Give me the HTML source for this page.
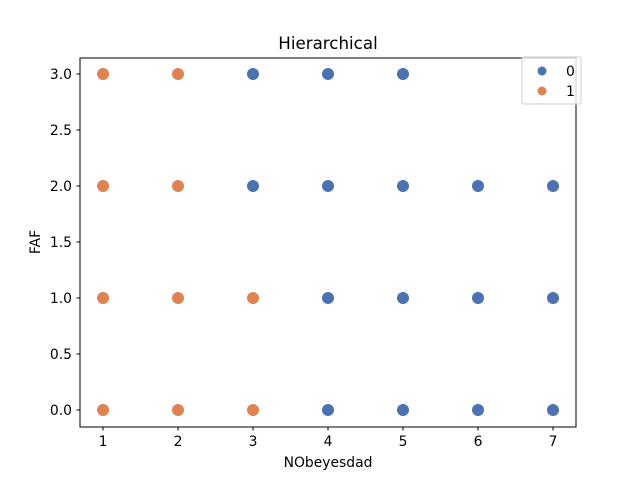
<!DOCTYPE html>
<html><head><meta charset="utf-8"><style>
body{margin:0;background:#fff;}
svg text{font-family:"DejaVu Sans","Liberation Sans",sans-serif;fill:#000;}
</style></head><body>
<svg id="chart" width="640" height="480" xmlns="http://www.w3.org/2000/svg">
<rect width="640" height="480" fill="#fff"/>
<text x="328" y="49" font-size="16.7" text-anchor="middle">Hierarchical</text>
<g id="plot"></g>
<rect x="80" y="58" width="496" height="369" fill="none" stroke="#000" stroke-width="1"/>
<text x="328" y="467" font-size="13.9" text-anchor="middle">NObeyesdad</text>
<text transform="translate(40,242) rotate(-90)" font-size="13.9" text-anchor="middle">FAF</text>
<g>
<rect x="522" y="57" width="59" height="47" rx="2" fill="#fff" fill-opacity="0.8" stroke="#ccc"/>
<circle cx="542" cy="71" r="4.5" fill="#4c72b0"/>
<text x="566" y="76" font-size="13.9">0</text>
<circle cx="542" cy="91" r="4.5" fill="#dd8452"/>
<text x="566" y="96" font-size="13.9">1</text>
</g>
</svg>
<script>
const xTicks=[1,2,3,4,5,6,7];
const yTicks=[0,0.5,1,1.5,2,2.5,3];
const yTickLabels=["0.0","0.5","1.0","1.5","2.0","2.5","3.0"];
const class1X=[1,1,1,1,2,2,2,2,3,3];
const class1Y=[0,1,2,3,0,1,2,3,0,1];
const class0X=[3,3,4,4,4,4,5,5,5,5,6,6,6,7,7,7];
const class0Y=[2,3,0,1,2,3,0,1,2,3,0,1,2,0,1,2];
const xs=v=>103+(v-1)*75;
const ys=v=>410-v*112;
const NS="http://www.w3.org/2000/svg";
const plot=document.getElementById('plot');
function mk(tag,attrs){const e=document.createElementNS(NS,tag);for(const k in attrs)e.setAttribute(k,attrs[k]);plot.appendChild(e);return e;}
xTicks.forEach(t=>{
  const l=mk('line',{x1:xs(t),x2:xs(t),y1:427,y2:430.5,stroke:'#000'});
  
  
  const tx=mk('text',{x:xs(t),y:446,'font-size':13.9,'text-anchor':'middle'});tx.textContent=t;
  
  
});
yTicks.forEach((t,i)=>{
  const l=mk('line',{x1:76.5,x2:80,y1:ys(t),y2:ys(t),stroke:'#000'});
  
  
  const tx=mk('text',{x:72,y:ys(t)+5,'font-size':13.9,'text-anchor':'end'});tx.textContent=yTickLabels[i];
  
  
});
class1X.forEach((x,i)=>{
  const c=mk('circle',{cx:xs(x),cy:ys(class1Y[i]),r:6,fill:'#dd8452'});
  
  
});
class0X.forEach((x,i)=>{
  const c=mk('circle',{cx:xs(x),cy:ys(class0Y[i]),r:6,fill:'#4c72b0'});
  
  
});
</script>
</body></html>
